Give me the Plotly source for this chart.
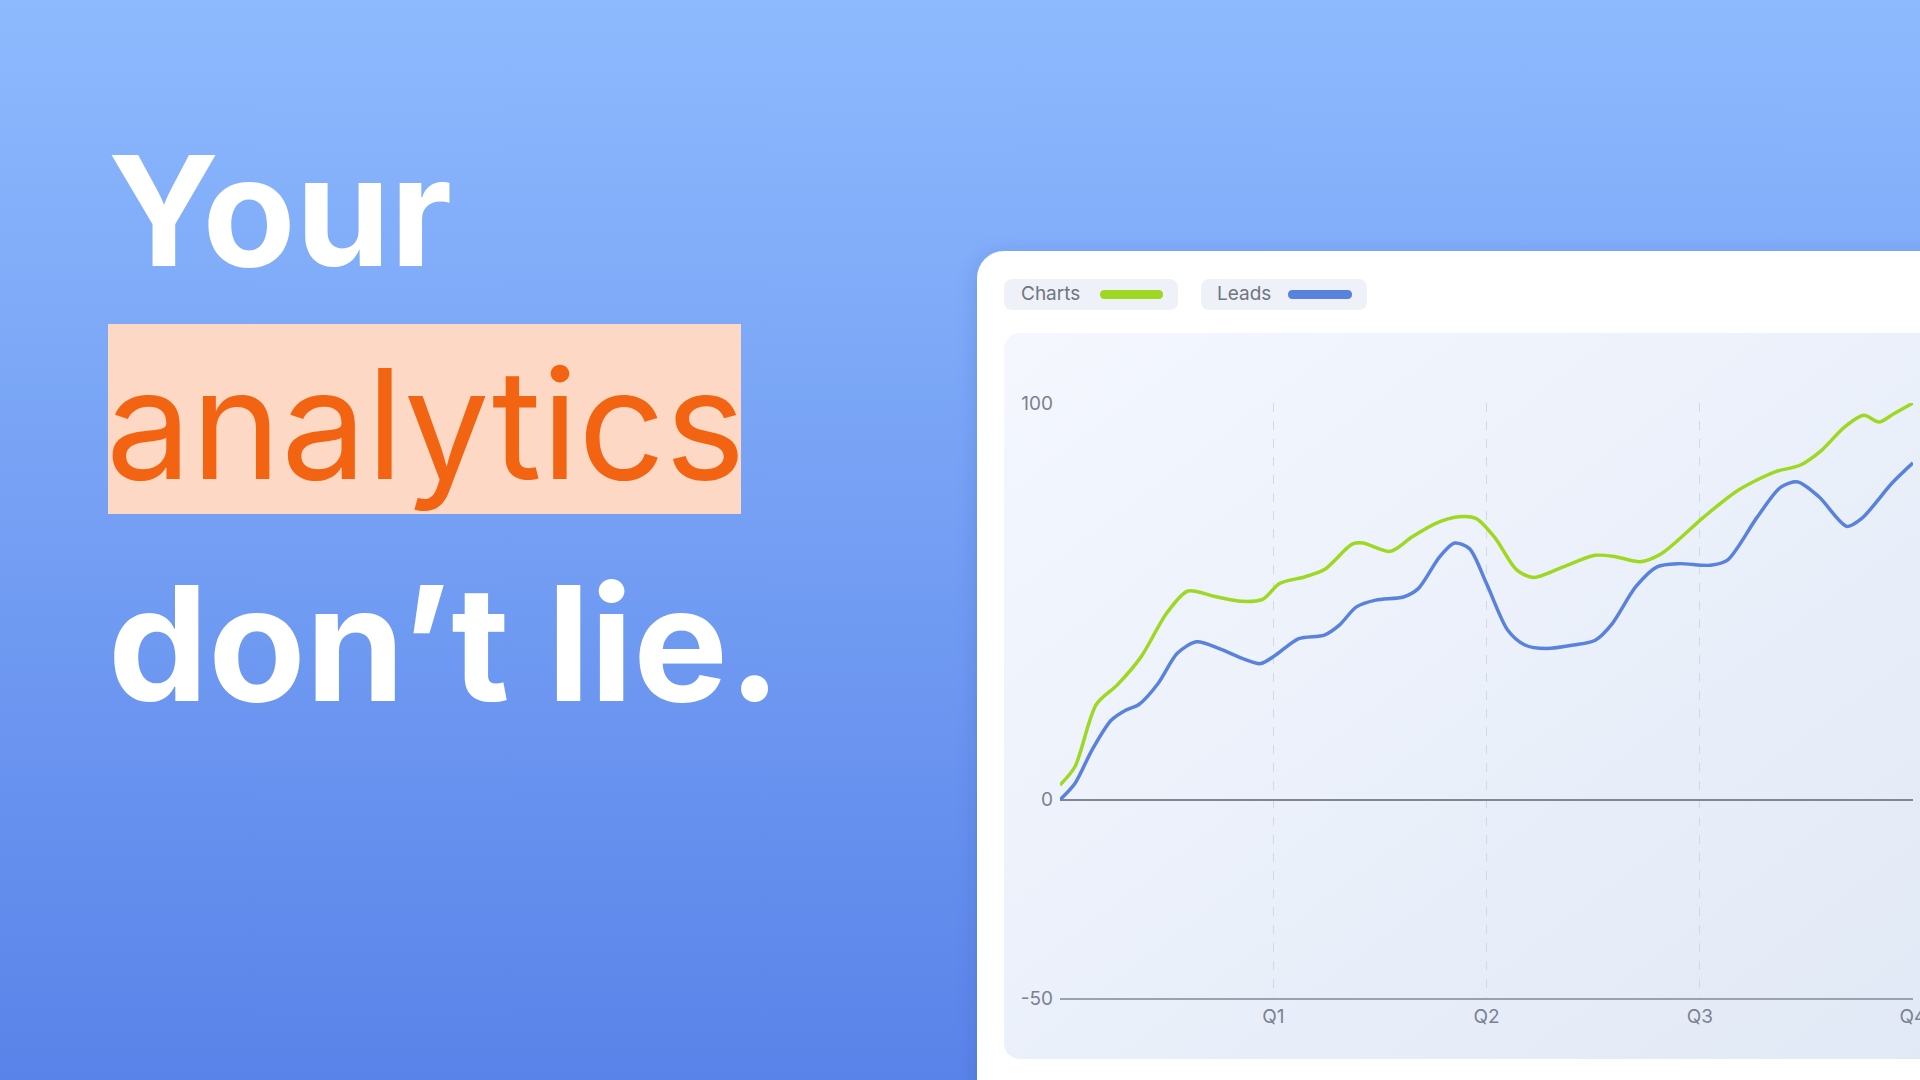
import base64
import plotly.graph_objects as go

W, H = 1920, 1080

# Data
quarter_labels = ["", "Q1", "Q2", "Q3", "Q4"]
quarter_ticks = [0, 1, 2, 3, 4]
y_ticks = [-50, 0, 100]
y_labels = ["-50", "0", "100"]

charts_x = [0, 0.07, 0.17, 0.27, 0.38, 0.5, 0.6, 0.72, 0.85, 0.95, 1.03, 1.15, 1.24,
            1.37, 1.42, 1.55, 1.65, 1.76, 1.87, 1.95, 2.04, 2.14, 2.22, 2.36, 2.51,
            2.61, 2.72, 2.82, 3.02, 3.18, 3.35, 3.47, 3.57, 3.68, 3.77, 3.84, 3.91, 4.0]
charts_y = [3.7, 8.3, 24, 29, 36, 47, 52.6, 51.3, 50, 50.5, 54.5, 56.2, 58,
            64.4, 64.7, 62.6, 66.2, 69.6, 71.3, 70.9, 66, 58, 56, 58.7, 61.6,
            61.2, 60, 62, 71.3, 78, 82.6, 84.3, 88, 94, 96.9, 95.2, 97.3, 100]

leads_x = [0, 0.07, 0.15, 0.24, 0.31, 0.37, 0.46, 0.55, 0.64, 0.75, 0.86, 0.94, 1.01,
           1.12, 1.24, 1.31, 1.39, 1.48, 1.61, 1.68, 1.78, 1.85, 1.92, 2.0, 2.1,
           2.18, 2.28, 2.41, 2.51, 2.59, 2.7, 2.8, 2.9, 3.05, 3.13, 3.27, 3.38,
           3.46, 3.56, 3.69, 3.76, 3.9, 4.0]
leads_y = [0, 4.1, 12.5, 20, 22.6, 24, 29.3, 36.9, 39.8, 38, 35.5, 34.3, 36.4,
           40.6, 41.5, 44, 48.6, 50.3, 51.1, 53.2, 61.2, 64.7, 63.3, 54.5, 42.7,
           39, 38.1, 39, 40.2, 44.4, 53.7, 58.7, 59.5, 59.1, 60.4, 71.3, 78.8,
           80.1, 76.3, 68.9, 70.9, 79.7, 84.9]

GREEN = "#9fd823"
BLUE = "#5882dc"
FONT = "Inter"


def px(x, y):
    # pixel position -> paper coordinates
    return x / W, 1 - y / H


def rounded_path(x0, y0, x1, y1, r):
    def p(x, y):
        a, b = px(x, y)
        return f"{a:.5f},{b:.5f}"
    return " ".join([
        f"M{p(x0 + r, y0)}",
        f"L{p(x1 - r, y0)}",
        f"Q{p(x1, y0)} {p(x1, y0 + r)}",
        f"L{p(x1, y1 - r)}",
        f"Q{p(x1, y1)} {p(x1 - r, y1)}",
        f"L{p(x0 + r, y1)}",
        f"Q{p(x0, y1)} {p(x0, y1 - r)}",
        f"L{p(x0, y0 + r)}",
        f"Q{p(x0, y0)} {p(x0 + r, y0)}Z",
    ])


def background_svg():
    svg = f"""<svg xmlns="http://www.w3.org/2000/svg" width="{W}" height="{H}" viewBox="0 0 {W} {H}">
<defs>
<linearGradient id="bg" x1="0" y1="0" x2="0" y2="1">
<stop offset="0" stop-color="#8dbafe"/><stop offset="1" stop-color="#5a83e9"/></linearGradient>
<linearGradient id="panel" x1="0" y1="0" x2="1" y2="1">
<stop offset="0" stop-color="#f4f7fe"/><stop offset="1" stop-color="#e1e9f6"/></linearGradient>
<filter id="sh" x="-10%" y="-10%" width="120%" height="120%">
<feDropShadow dx="0" dy="4" stdDeviation="10" flood-color="#1e3a8a" flood-opacity="0.18"/></filter>
</defs>
<rect width="{W}" height="{H}" fill="url(#bg)"/>
<rect x="977" y="251" width="1000" height="900" rx="27" fill="#ffffff" filter="url(#sh)"/>
<rect x="1004" y="333" width="960" height="726" rx="16" fill="url(#panel)"/>
</svg>"""
    return "data:image/svg+xml;base64," + base64.b64encode(svg.encode()).decode()


def main():
    fig = go.Figure()

    fig.add_trace(go.Scatter(
        x=charts_x, y=charts_y, mode="lines", name="Charts",
        line=dict(color=GREEN, width=3.5, shape="spline", smoothing=0.8),
        cliponaxis=False, hoverinfo="skip",
    ))
    fig.add_trace(go.Scatter(
        x=leads_x, y=leads_y, mode="lines", name="Leads",
        line=dict(color=BLUE, width=3.5, shape="spline", smoothing=0.8),
        cliponaxis=False, hoverinfo="skip",
    ))

    # Page background, card and chart panel
    fig.add_layout_image(dict(
        source=background_svg(), xref="paper", yref="paper",
        x=0, y=1, sizex=1, sizey=1, xanchor="left", yanchor="top",
        sizing="stretch", layer="below",
    ))

    shapes = []
    # highlight box behind "analytics"
    x0, y0 = px(108, 324)
    x1, y1 = px(741, 514)
    shapes.append(dict(type="rect", xref="paper", yref="paper", x0=x0, y0=y0, x1=x1, y1=y1,
                       fillcolor="#fdd9c5", line=dict(width=0), layer="below"))
    # legend pills
    for (a, b), (c, d), color in [((1004, 1178), (1100, 1163), GREEN),
                                  ((1201, 1367), (1288, 1352), BLUE)]:
        shapes.append(dict(type="path", xref="paper", yref="paper",
                           path=rounded_path(a, 279, b, 310, 9),
                           fillcolor="#eef1f8", line=dict(width=0), layer="below"))
        shapes.append(dict(type="path", xref="paper", yref="paper",
                           path=rounded_path(c, 290, d, 299, 4.5),
                           fillcolor=color, line=dict(width=0), layer="above"))

    annotations = [
        dict(text="Your", x=106 / W, y=1 - 211 / H, font=dict(size=152, color="white", weight=700)),
        dict(text="analytics", x=104 / W, y=1 - 424 / H, font=dict(size=152, color="#f26412", weight=400)),
        dict(text="don’t lie.", x=106 / W, y=1 - 643 / H, font=dict(size=159, color="white", weight=700)),
        dict(text="Charts", x=1019 / W, y=1 - 294 / H, font=dict(size=19, color="#6f7582")),
        dict(text="Leads", x=1215 / W, y=1 - 294 / H, font=dict(size=19, color="#6f7582")),
    ]
    for a in annotations:
        a.update(xref="paper", yref="paper", xanchor="left", yanchor="middle", showarrow=False)
        a["font"].setdefault("family", FONT)

    fig.update_layout(
        width=W, height=H,
        margin=dict(l=0, r=0, t=0, b=0, pad=0, autoexpand=False),
        paper_bgcolor="#6f9af0",
        plot_bgcolor="rgba(0,0,0,0)",
        showlegend=False,
        shapes=shapes,
        annotations=annotations,
        font=dict(family=FONT, color="#7b8190"),
        xaxis=dict(
            domain=[1060 / W, 1913 / W], range=[0, 4],
            tickvals=quarter_ticks, ticktext=quarter_labels,
            showgrid=True, gridcolor="#d3d9e4", griddash="dash", gridwidth=1,
            zeroline=False, showline=True, linecolor="#9aa2af", linewidth=2,
            ticks="", tickfont=dict(size=19, color="#7b8190"),
            ticklabeloverflow="allow", automargin=False, fixedrange=True,
        ),
        yaxis=dict(
            domain=[1 - 998 / H, 1 - 403 / H], range=[-50, 100],
            tickvals=y_ticks, ticktext=y_labels,
            showgrid=True, gridcolor="#d5dbe6", gridwidth=1,
            zeroline=True, zerolinecolor="#7f8796", zerolinewidth=1.5,
            showline=False, ticks="", ticklabelstandoff=6,
            tickfont=dict(size=19, color="#7b8190"),
            automargin=False, fixedrange=True,
        ),
    )

    # drop the page's default body margin so the figure fills the window
    fig.write_html(
        "out.html",
        config={"displayModeBar": False},
        post_script="document.body.style.margin='0';document.body.style.overflow='hidden';",
    )


if __name__ == '__main__':
    main()
